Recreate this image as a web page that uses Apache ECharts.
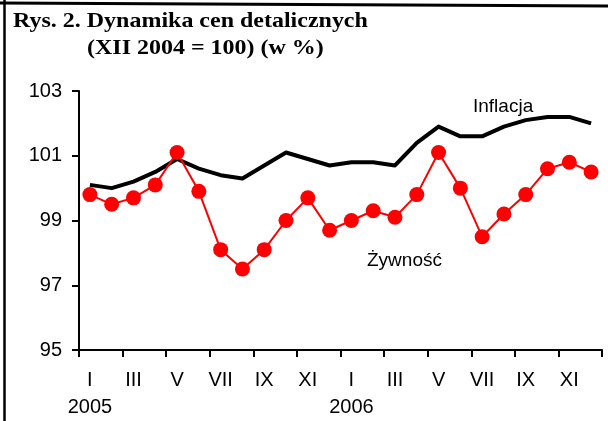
<!DOCTYPE html>
<html>
<head>
<meta charset="utf-8">
<script src="https://cdn.jsdelivr.net/npm/echarts@6/dist/echarts.min.js"></script>
<style>
  html, body { margin: 0; padding: 0; background: #fff; }
  #chart { width: 608px; height: 421px; }
</style>
</head>
<body>
<div id="chart"></div>
<script>
// Monthly retail price index, December 2004 = 100
const months = ['I', 'II', 'III', 'IV', 'V', 'VI', 'VII', 'VIII', 'IX', 'X', 'XI', 'XII',
                'I', 'II', 'III', 'IV', 'V', 'VI', 'VII', 'VIII', 'IX', 'X', 'XI', 'XII'];
const years = ['2005', '2006'];
const inflacja = [100.1, 100.0, 100.2, 100.5, 100.9, 100.6, 100.4, 100.3, 100.7, 101.1, 100.9, 100.7,
                  100.8, 100.8, 100.7, 101.4, 101.9, 101.6, 101.6, 101.9, 102.1, 102.2, 102.2, 102.0];
const zywnosc = [99.8, 99.5, 99.7, 100.1, 101.1, 99.9, 98.1, 97.5, 98.1, 99.0, 99.7, 98.7,
                 99.0, 99.3, 99.1, 99.8, 101.1, 100.0, 98.5, 99.2, 99.8, 100.6, 100.8, 100.5];
const yTicks = { min: 95, max: 103, step: 2 };
const titleLines = ['Rys. 2. Dynamika cen detalicznych', '(XII 2004 = 100) (w %)'];
const seriesNames = ['Inflacja', 'Żywność'];

const sans = '"Liberation Sans", Arial, sans-serif';
const serifBold = 'bold 22px "Liberation Serif", "Times New Roman", serif';

const chart = echarts.init(document.getElementById('chart'), null, { renderer: 'canvas' });

chart.setOption({
  animation: false,
  backgroundColor: '#ffffff',
  grid: { left: 79, right: 6, top: 91, bottom: 69, containLabel: false },
  xAxis: {
    type: 'category',
    data: months,
    boundaryGap: true,
    axisLine: { lineStyle: { color: '#000', width: 2 } },
    axisTick: { show: true, interval: 1, length: 7, lineStyle: { color: '#000', width: 2 } },
    axisLabel: {
      interval: 1,
      color: '#000',
      fontFamily: sans,
      fontSize: 20,
      lineHeight: 27,
      margin: 17,
      formatter: function (value, index) {
        return index % 12 === 0 ? value + '\n' + years[index / 12] : value;
      }
    },
    splitLine: { show: false }
  },
  yAxis: {
    type: 'value',
    min: yTicks.min,
    max: yTicks.max,
    interval: yTicks.step,
    axisLine: { show: true, lineStyle: { color: '#000', width: 2 } },
    axisTick: { show: true, length: 7, lineStyle: { color: '#000', width: 2 } },
    axisLabel: { color: '#000', fontFamily: sans, fontSize: 20, margin: 17 },
    splitLine: { show: false }
  },
  series: [
    {
      name: seriesNames[0],
      type: 'line',
      data: inflacja,
      symbol: 'none',
      lineStyle: { color: '#000', width: 4, join: 'round' },
      z: 2
    },
    {
      name: seriesNames[1],
      type: 'line',
      data: zywnosc,
      symbol: 'circle',
      symbolSize: 15,
      showAllSymbol: true,
      itemStyle: { color: '#ff0000' },
      lineStyle: { color: '#ff0000', width: 2 },
      z: 3
    }
  ],
  graphic: [
    // frame lines
    { type: 'line', shape: { x1: 0, y1: 3, x2: 608, y2: 6 }, style: { stroke: '#000', lineWidth: 3 }, silent: true },
    { type: 'line', shape: { x1: 4.5, y1: 0, x2: 4.5, y2: 421 }, style: { stroke: '#000', lineWidth: 2.5 }, silent: true },
    // heading
    { type: 'text', x: 13, y: 10, scaleX: 1.09, style: { text: titleLines[0], font: serifBold, fill: '#000', verticalAlign: 'top' } },
    { type: 'text', x: 87, y: 37, scaleX: 1.09, style: { text: titleLines[1], font: serifBold, fill: '#000', verticalAlign: 'top' } },
    // series names beside the lines
    { type: 'text', x: 473, y: 107, style: { text: seriesNames[0], font: '19px ' + sans, fill: '#000', verticalAlign: 'middle' } },
    { type: 'text', x: 367, y: 261, style: { text: seriesNames[1], font: '19px ' + sans, fill: '#000', verticalAlign: 'middle' } }
  ]
});
</script>
</body>
</html>
